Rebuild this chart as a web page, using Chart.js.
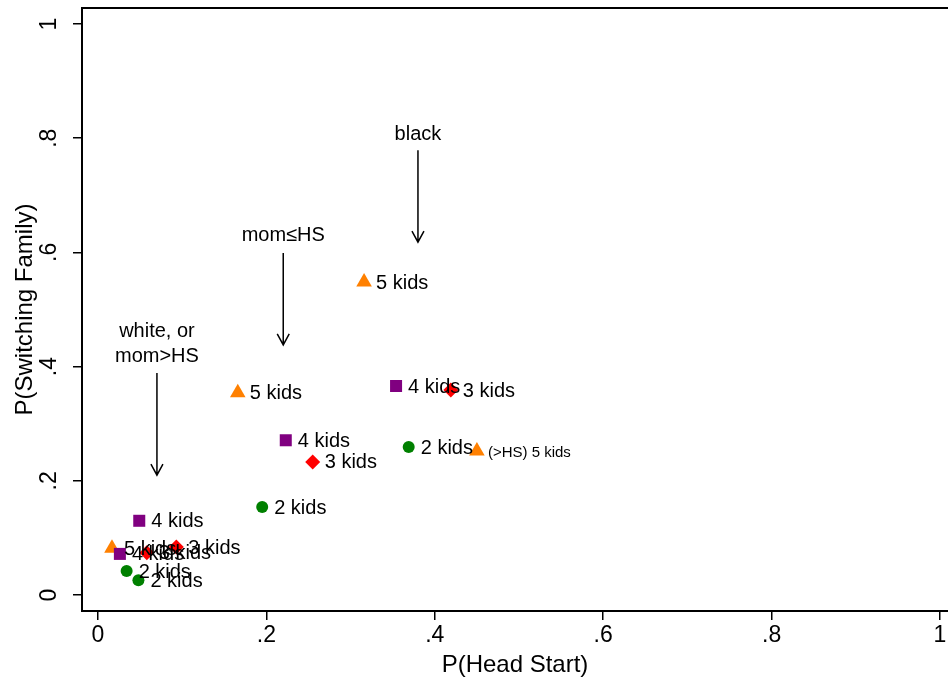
<!DOCTYPE html>
<html lang="en">
<head>
<meta charset="UTF-8">
<title>P(Switching Family) by P(Head Start)</title>
<style>
  html, body { margin: 0; padding: 0; background: #fff; overflow: hidden; }
  #wrap { width: 948px; height: 681px; }
</style>
</head>
<body>
<div id="wrap"><canvas id="chart" width="948" height="681"></canvas></div>
<script src="https://cdn.jsdelivr.net/npm/chart.js"></script>
<script>
  // values
  const twoKidsX = [0.369, 0.195, 0.034, 0.048];
  const twoKidsY = [0.259, 0.154, 0.042, 0.026];
  const twoKidsLabels = ['2 kids', '2 kids', '2 kids', '2 kids'];

  const threeKidsX = [0.419, 0.255, 0.058, 0.093];
  const threeKidsY = [0.359, 0.233, 0.074, 0.084];
  const threeKidsLabels = ['3 kids', '3 kids', '3 kids', '3 kids'];

  const fourKidsX = [0.354, 0.223, 0.049, 0.026];
  const fourKidsY = [0.366, 0.271, 0.130, 0.072];
  const fourKidsLabels = ['4 kids', '4 kids', '4 kids', '4 kids'];

  const fiveKidsX = [0.316, 0.166, 0.450, 0.0166];
  const fiveKidsY = [0.548, 0.354, 0.252, 0.082];
  const fiveKidsLabels = ['5 kids', '5 kids', '(>HS) 5 kids', '5 kids'];

  const xTicks = [0, 0.2, 0.4, 0.6, 0.8, 1];
  const xTickLabels = ['0', '.2', '.4', '.6', '.8', '1'];
  const yTicks = [0, 0.2, 0.4, 0.6, 0.8, 1];
  const yTickLabels = ['0', '.2', '.4', '.6', '.8', '1'];

  // arrows with their notes
  const noteX = [0.380, 0.220, 0.070];
  const noteLines = [['black'], ['mom\u2264HS'], ['white, or', 'mom>HS']];
  const noteLineY = [[0.806], [0.629], [0.461, 0.417]];
  const arrowFromY = [0.779, 0.599, 0.389];
  const arrowToY = [0.618, 0.438, 0.210];

  const FONT = '"Liberation Sans", Arial, Helvetica, sans-serif';

  function pts(xs, ys) {
    return xs.map((x, i) => ({ x: x, y: ys[i] }));
  }

  const datasets = [
    { label: '2 kids', data: pts(twoKidsX, twoKidsY), pointLabels: twoKidsLabels,
      pointStyle: 'circle', pointRadius: 6, backgroundColor: '#008000', borderColor: '#008000' },
    { label: '3 kids', data: pts(threeKidsX, threeKidsY), pointLabels: threeKidsLabels,
      pointStyle: 'rectRot', pointRadius: 7.5, backgroundColor: '#ff0000', borderColor: '#ff0000' },
    { label: '4 kids', data: pts(fourKidsX, fourKidsY), pointLabels: fourKidsLabels,
      pointStyle: 'rect', pointRadius: 8.5, backgroundColor: '#800080', borderColor: '#800080' },
    { label: '5 kids', data: pts(fiveKidsX, fiveKidsY), pointLabels: fiveKidsLabels,
      pointStyle: 'triangle', pointRadius: 9, backgroundColor: '#ff8000', borderColor: '#ff8000' }
  ];
  datasets.forEach(d => { d.borderWidth = 0; d.pointHoverRadius = d.pointRadius; });

  // marker labels to the right of each point
  const markerLabels = {
    id: 'markerLabels',
    afterDatasetsDraw(chart) {
      const ctx = chart.ctx;
      ctx.save();
      ctx.fillStyle = '#000';
      ctx.textAlign = 'left';
      ctx.textBaseline = 'middle';
      chart.data.datasets.forEach((ds, di) => {
        const meta = chart.getDatasetMeta(di);
        meta.data.forEach((el, i) => {
          const txt = ds.pointLabels[i];
          const small = txt.length > 8;
          ctx.font = (small ? 15 : 20) + 'px ' + FONT;
          ctx.fillText(txt, el.x + (small ? 11 : 12), el.y + (small ? 2 : 1));
        });
      });
      ctx.restore();
    }
  };

  // frame top, tick labels (y ones rotated), arrows and notes
  const extras = {
    id: 'extras',
    afterDraw(chart) {
      const ctx = chart.ctx;
      const xs = chart.scales.x, ys = chart.scales.y;
      const area = chart.chartArea;
      ctx.save();
      ctx.strokeStyle = '#000';
      ctx.lineWidth = 2;
      ctx.beginPath();
      ctx.moveTo(area.left - 1, area.top);
      ctx.lineTo(area.right, area.top);
      ctx.stroke();

      ctx.fillStyle = '#000';
      ctx.font = '23px ' + FONT;
      ctx.textAlign = 'center';
      ctx.textBaseline = 'middle';
      xTicks.forEach((v, i) => {
        ctx.fillText(xTickLabels[i], xs.getPixelForValue(v), area.bottom + 25);
      });
      yTicks.forEach((v, i) => {
        ctx.save();
        ctx.translate(50, ys.getPixelForValue(v));
        ctx.rotate(-Math.PI / 2);
        ctx.fillText(yTickLabels[i], 0, 0);
        ctx.restore();
      });

      ctx.font = '20px ' + FONT;
      ctx.lineWidth = 1.5;
      noteX.forEach((nx, i) => {
        const px = xs.getPixelForValue(nx);
        noteLines[i].forEach((line, j) => {
          ctx.fillText(line, px, ys.getPixelForValue(noteLineY[i][j]));
        });
        const y1 = ys.getPixelForValue(arrowFromY[i]);
        const y2 = ys.getPixelForValue(arrowToY[i]);
        ctx.beginPath();
        ctx.moveTo(px, y1);
        ctx.lineTo(px, y2);
        ctx.moveTo(px - 6, y2 - 11);
        ctx.lineTo(px, y2);
        ctx.lineTo(px + 6, y2 - 11);
        ctx.stroke();
      });
      ctx.restore();
    }
  };

  new Chart(document.getElementById('chart'), {
    type: 'scatter',
    data: { datasets: datasets },
    options: {
      responsive: false,
      animation: false,
      events: [],
      layout: { autoPadding: false, padding: { top: 8, right: 0, left: 0, bottom: 0 } },
      plugins: { legend: { display: false }, tooltip: { enabled: false } },
      scales: {
        x: {
          type: 'linear',
          min: -0.019,
          max: 1.0095,
          afterBuildTicks: s => { s.ticks = xTicks.map(v => ({ value: v })); },
          afterFit: s => { s.height = 70; },
          grid: { drawOnChartArea: false, drawTicks: true, tickLength: 9, color: '#000', lineWidth: 1.5 },
          border: { display: true, color: '#000', width: 2 },
          ticks: { display: false },
          title: {
            display: true, text: 'P(Head Start)', color: '#000',
            font: { family: FONT, size: 24 }, padding: { top: 0, bottom: 1 }
          }
        },
        y: {
          type: 'linear',
          min: -0.028,
          max: 1.028,
          afterBuildTicks: s => { s.ticks = yTicks.map(v => ({ value: v })); },
          afterFit: s => { s.width = 82; },
          grid: { drawOnChartArea: false, drawTicks: true, tickLength: 9, color: '#000', lineWidth: 1.5 },
          border: { display: true, color: '#000', width: 2 },
          ticks: { display: false },
          title: {
            display: true, text: 'P(Switching Family)', color: '#000',
            font: { family: FONT, size: 24 }, padding: { top: 11, bottom: 0 }
          }
        }
      }
    },
    plugins: [markerLabels, extras]
  });
</script>
</body>
</html>
